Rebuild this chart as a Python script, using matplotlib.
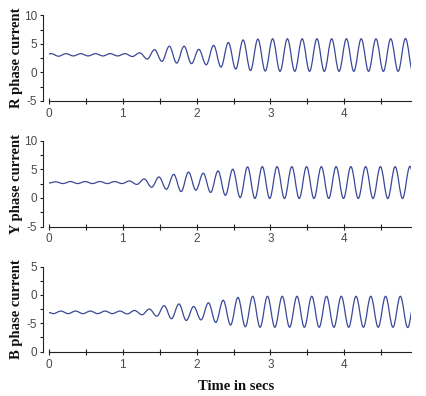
import matplotlib
matplotlib.use("Agg")
import matplotlib.pyplot as plt
from matplotlib.path import Path
from matplotlib.patches import PathPatch
from matplotlib.ticker import FixedLocator, FixedFormatter, MultipleLocator

# Peak / trough readings of each phase current (time in s, current)
r_time = [0.00, 0.03, 0.13, 0.23, 0.33, 0.43, 0.53, 0.63, 0.73, 0.83, 0.93,
          1.03, 1.13, 1.23, 1.33, 1.43, 1.53, 1.63, 1.73, 1.83, 1.93,
          2.03, 2.13, 2.23, 2.33, 2.43, 2.53, 2.63, 2.73, 2.83, 2.93,
          3.03, 3.13, 3.23, 3.33, 3.43, 3.53, 3.63, 3.73, 3.83, 3.93,
          4.03, 4.13, 4.23, 4.33, 4.43, 4.53, 4.63, 4.73, 4.83, 4.93]
r_value = [3.25, 3.3, 2.85, 3.3, 2.9, 3.3, 2.9, 3.3, 2.9, 3.3, 2.9,
           3.3, 2.8, 3.45, 2.35, 4.0, 1.95, 4.6, 1.65, 4.6, 1.55,
           4.05, 1.35, 4.75, 0.95, 5.25, 0.6, 5.7, 0.35, 5.85, 0.25,
           5.9, 0.2, 5.9, 0.2, 5.9, 0.2, 5.9, 0.2, 5.9, 0.2,
           5.9, 0.2, 5.9, 0.2, 5.9, 0.2, 5.9, 0.2, 5.95, 0.1]

y_time = [0.00, 0.09, 0.19, 0.29, 0.39, 0.49, 0.59, 0.69, 0.79, 0.89, 0.99,
          1.09, 1.19, 1.29, 1.39, 1.49, 1.59, 1.69, 1.79, 1.89, 1.99,
          2.09, 2.19, 2.29, 2.39, 2.49, 2.59, 2.69, 2.79, 2.89, 2.99,
          3.09, 3.19, 3.29, 3.39, 3.49, 3.59, 3.69, 3.79, 3.89, 3.99,
          4.09, 4.19, 4.29, 4.39, 4.49, 4.59, 4.69, 4.79, 4.89, 4.99]
y_value = [2.6, 2.8, 2.5, 2.85, 2.5, 2.85, 2.5, 2.85, 2.5, 2.85, 2.5,
           2.95, 2.35, 3.3, 1.85, 3.65, 1.5, 4.1, 1.1, 4.5, 1.35,
           4.3, 0.95, 4.7, 0.45, 5.0, 0.05, 5.4, -0.1, 5.45, -0.1,
           5.45, -0.1, 5.45, -0.1, 5.45, -0.1, 5.45, -0.1, 5.45, -0.1,
           5.45, -0.1, 5.45, -0.1, 5.45, -0.1, 5.45, -0.1, 5.5, -0.1]

b_time = [0.00, 0.06, 0.16, 0.26, 0.36, 0.46, 0.56, 0.66, 0.76, 0.86, 0.96,
          1.06, 1.16, 1.26, 1.36, 1.46, 1.56, 1.66, 1.76, 1.86, 1.96,
          2.06, 2.16, 2.26, 2.36, 2.46, 2.56, 2.66, 2.76, 2.86, 2.96,
          3.06, 3.16, 3.26, 3.36, 3.46, 3.56, 3.66, 3.76, 3.86, 3.96,
          4.06, 4.16, 4.26, 4.36, 4.46, 4.56, 4.66, 4.76, 4.86, 4.96]
b_value = [-3.1, -3.3, -2.85, -3.3, -2.85, -3.3, -2.85, -3.3, -2.85, -3.3, -2.85,
           -3.35, -2.75, -3.5, -2.5, -3.75, -1.9, -4.2, -1.6, -4.5, -2.05,
           -4.4, -1.4, -4.85, -0.95, -5.3, -0.45, -5.6, -0.25, -5.7, -0.25,
           -5.7, -0.25, -5.7, -0.25, -5.7, -0.25, -5.7, -0.25, -5.7, -0.25,
           -5.7, -0.25, -5.7, -0.25, -5.7, -0.25, -5.7, -0.25, -5.75, -0.3]

panel_labels = ["R phase current", "Y phase current", "B phase current"]
y_ticks = [[-5, 0, 5, 10], [-5, 0, 5, 10], [-10, -5, 0, 5]]
y_tick_labels = [["-5", "0", "5", "10"], ["-5", "0", "5", "10"], ["0", "-5", "0", "5"]]
y_limits = [(-5, 10), (-5, 10), (-10, 5)]
x_ticks = [0, 1, 2, 3, 4]
x_tick_labels = ["0", "1", "2", "3", "4"]
series = [(r_time, r_value), (y_time, y_value), (b_time, b_value)]

line_color = "#3a4898"
text_color = "#4a4a4a"


def smooth_path(ts, vs):
    # cubic bezier between successive extremes, flat tangents at each extreme
    verts = [(ts[0], vs[0])]
    codes = [Path.MOVETO]
    for i in range(1, len(ts)):
        dt = ts[i] - ts[i - 1]
        verts += [(ts[i - 1] + 0.364 * dt, vs[i - 1]),
                  (ts[i] - 0.364 * dt, vs[i]),
                  (ts[i], vs[i])]
        codes += [Path.CURVE4] * 3
    return Path(verts, codes)


fig = plt.figure(figsize=(4.26, 3.96), dpi=100)
boxes = [(0.115, 0.745, 0.849, 0.216),
         (0.115, 0.428, 0.849, 0.217),
         (0.115, 0.112, 0.849, 0.215)]

for k, box in enumerate(boxes):
    ax = fig.add_axes(box)
    ts, vs = series[k]
    ax.add_patch(PathPatch(smooth_path(ts, vs), fill=False,
                           edgecolor=line_color, linewidth=0.9))
    ax.set_xlim(0, 4.9)
    ax.set_ylim(*y_limits[k])

    for side in ["top", "right"]:
        ax.spines[side].set_visible(False)
    ax.spines["left"].set_position(("outward", 4.3))
    for side in ["left", "bottom"]:
        ax.spines[side].set_color("#222222")
        ax.spines[side].set_linewidth(0.8)

    ax.xaxis.set_major_locator(FixedLocator(x_ticks))
    ax.xaxis.set_major_formatter(FixedFormatter(x_tick_labels))
    ax.xaxis.set_minor_locator(MultipleLocator(0.5))
    ax.tick_params(axis="x", which="both", direction="inout", length=4,
                   width=0.8, color="#222222", pad=3, labelsize=8.5,
                   labelcolor=text_color)

    ax.yaxis.set_major_locator(FixedLocator(y_ticks[k]))
    ax.yaxis.set_major_formatter(FixedFormatter(y_tick_labels[k]))
    ax.yaxis.set_minor_locator(MultipleLocator(2.5))
    ax.tick_params(axis="y", which="both", direction="out", length=2.5,
                   width=0.8, color="#222222", pad=1.5, labelsize=8.5,
                   labelcolor=text_color)
    for lab in ax.get_xticklabels() + ax.get_yticklabels():
        lab.set_family("Liberation Sans")

    ax.set_ylabel(panel_labels[k], family="Liberation Serif", fontweight="bold",
                  fontsize=10.5, color="#111111", labelpad=3)
    ax.yaxis.set_label_coords(-0.072, 0.5)

fig.text(0.554, 0.024, "Time in secs", family="Liberation Serif",
         fontweight="bold", fontsize=10.5, color="#111111", ha="center", va="center")

fig.savefig("out.png", dpi=100, facecolor="white")
